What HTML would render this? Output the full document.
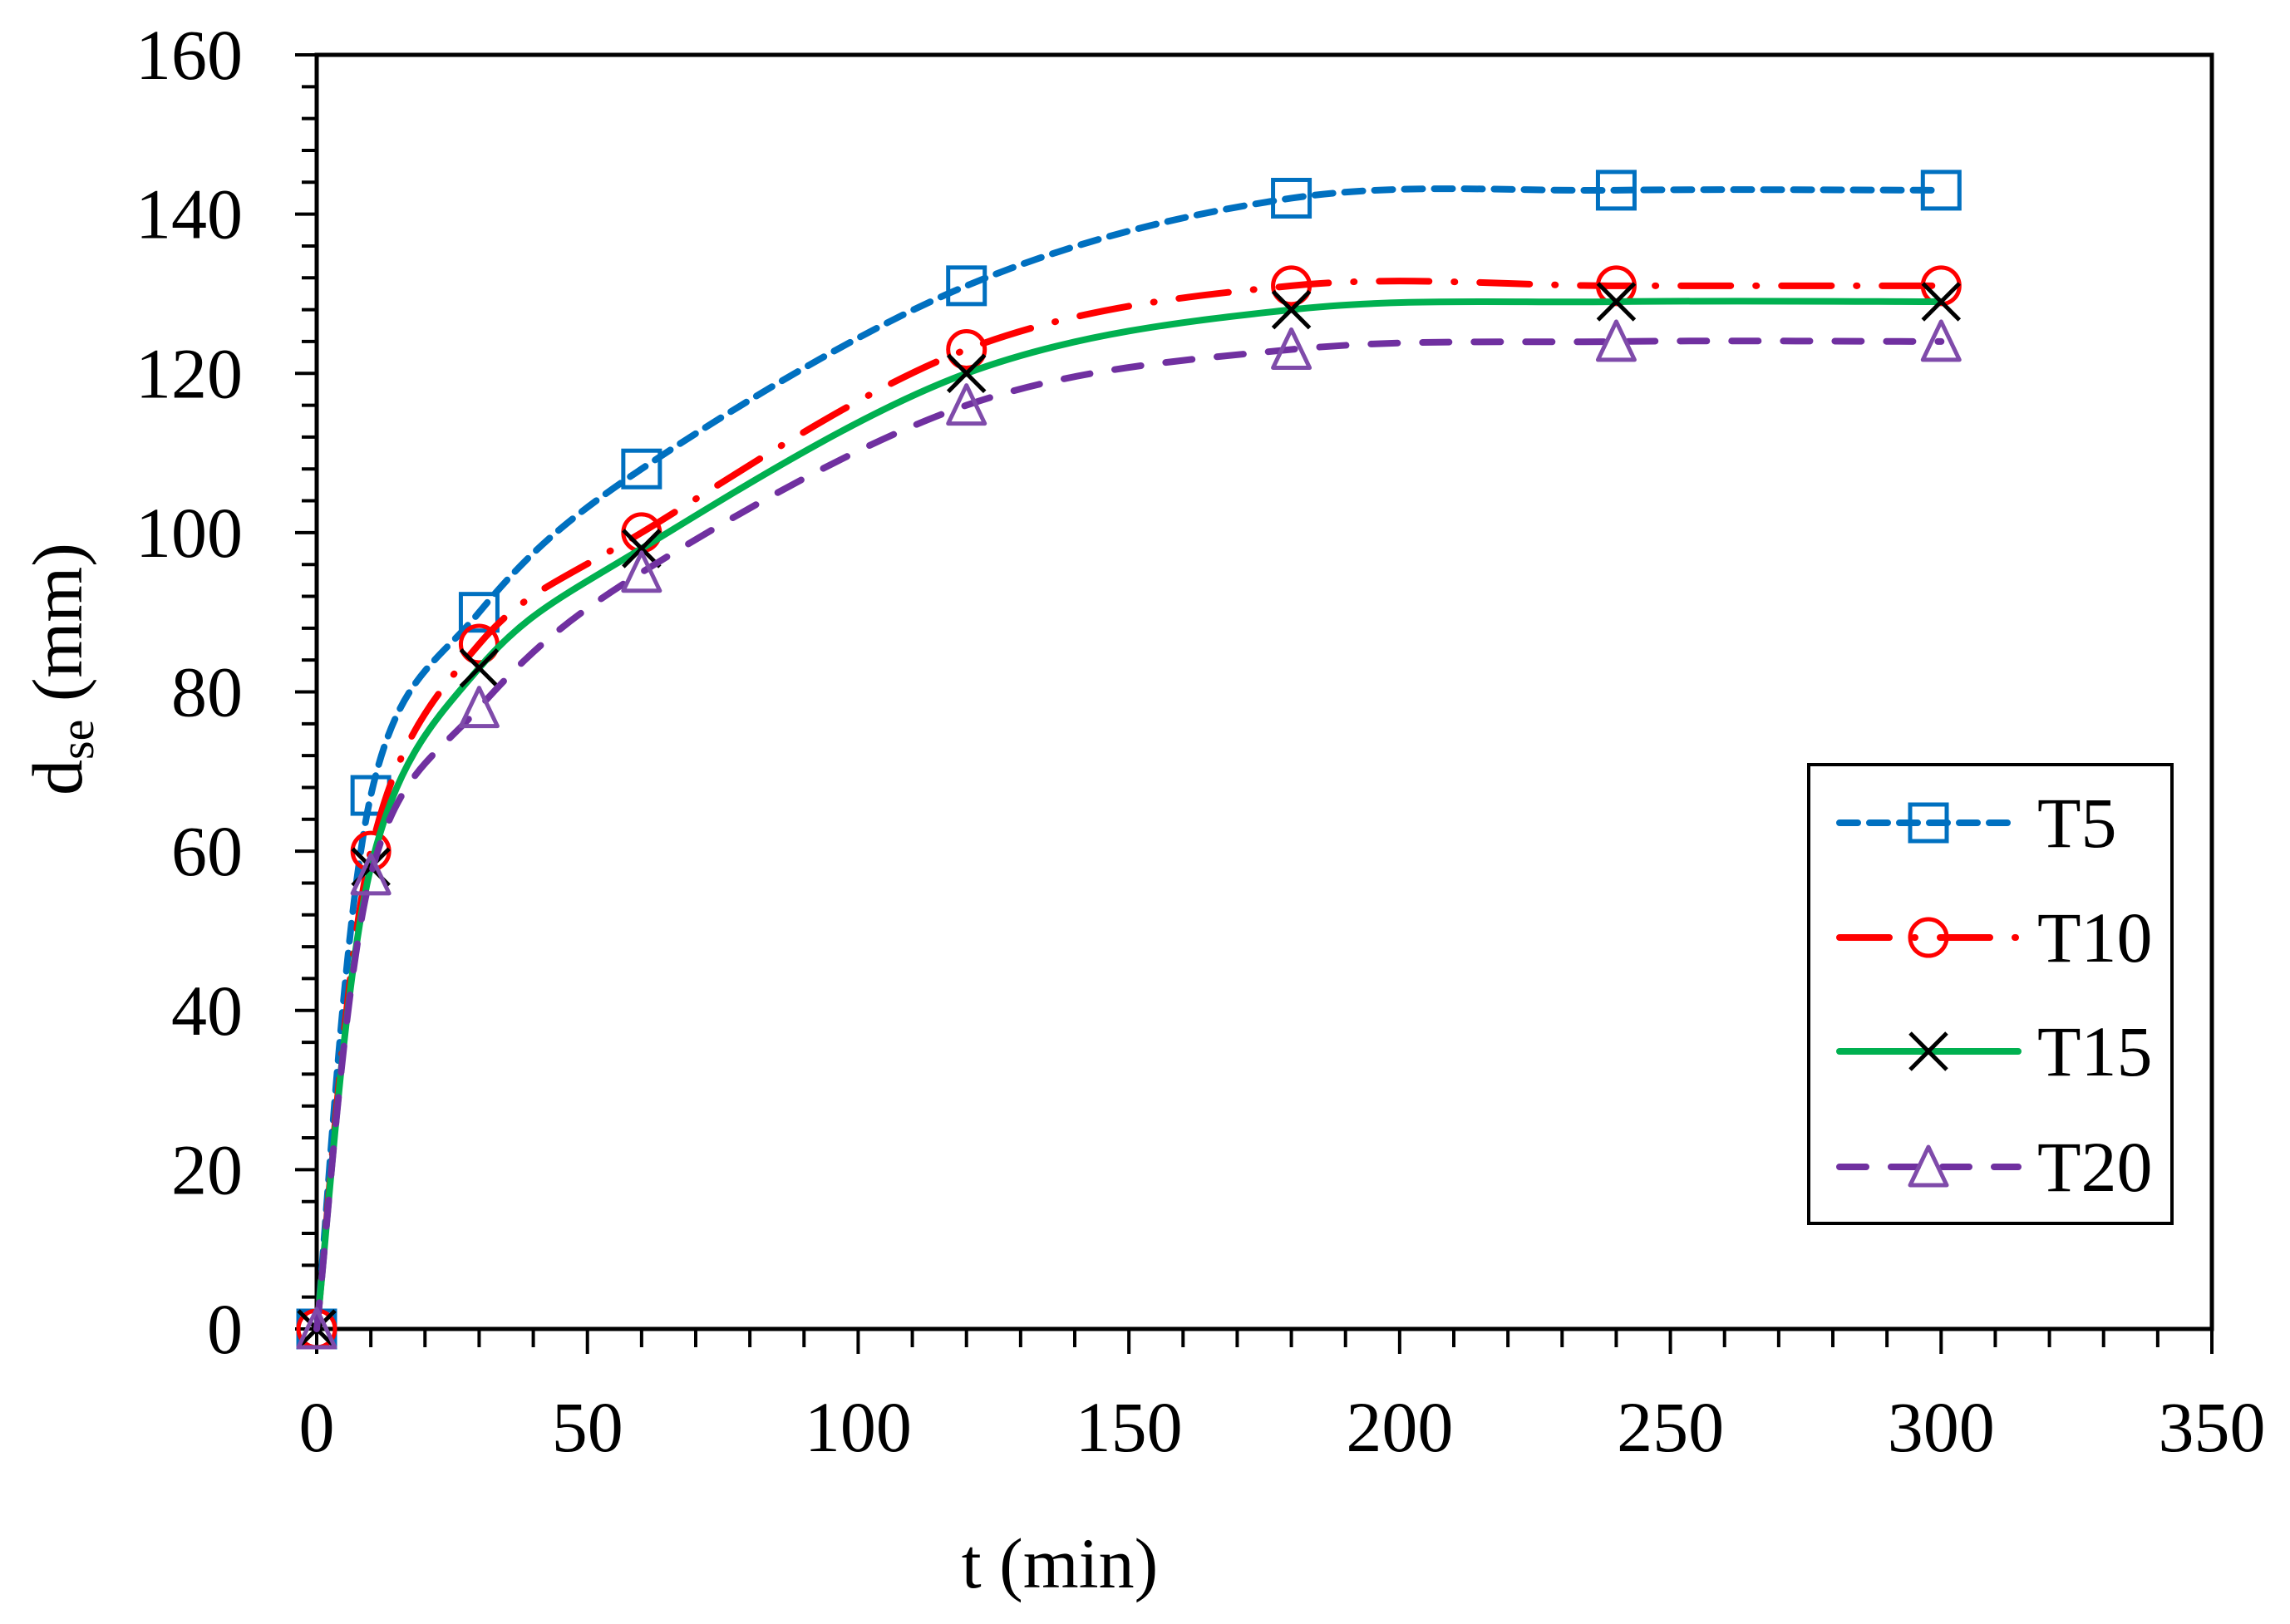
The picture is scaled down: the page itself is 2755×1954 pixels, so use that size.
<!DOCTYPE html>
<html><head><meta charset="utf-8"><style>
html,body{margin:0;padding:0;background:#fff;}
svg{display:block;}
text{font-family:"Liberation Serif",serif;fill:#000;}
</style></head><body>
<svg id="chart" width="2755" height="1954" viewBox="0 0 2755 1954" xmlns="http://www.w3.org/2000/svg"></svg>
<script>
const times = [0,10,30,60,120,180,240,300];
const seriesNames = ["T5","T10","T15","T20"];
const t5 = [0,67,90,108,131,142,143,143];
const t10 = [0,60,86,100,123,131,131,131];
const t15 = [0,58,83,98,120,128,129,129];
const t20 = [0,57,78,95,116,123,124,124];
const xTicks = [0,50,100,150,200,250,300,350];
const yTicks = [0,20,40,60,80,100,120,140,160];

const L=381,R=2661,T=66,B=1599;
const X=v=>L+(v-0)/350*(R-L);
const Y=v=>B-(v/160)*(B-T);
const NS="http://www.w3.org/2000/svg";
const svg=document.getElementById('chart');
function mk(tag,attrs,parent){const e=document.createElementNS(NS,tag);for(const k in attrs)e.setAttribute(k,attrs[k]);(parent||svg).appendChild(e);return e;}

const ticksG=mk('g',{});


for(let v=0;v<=160;v+=4){const maj=v%20===0;mk('line',{x1:L-(maj?26:18),x2:L,y1:Y(v),y2:Y(v),stroke:'#000','stroke-width':4},ticksG);}
for(let v=0;v<=350;v+=10){const maj=v%50===0;mk('line',{x1:X(v),x2:X(v),y1:B,y2:B+(maj?30:22),stroke:'#000','stroke-width':4},ticksG);}
const frame=mk('rect',{x:L,y:T,width:R-L,height:B-T,fill:'none',stroke:'#000','stroke-width':5});



yTicks.forEach(v=>{const t=mk('text',{x:292,y:Y(v)+29,'text-anchor':'end','font-size':86});t.textContent=v;

});
xTicks.forEach(v=>{const t=mk('text',{x:X(v),y:1746,'text-anchor':'middle','font-size':86});t.textContent=v;

});

const xt=mk('text',{x:1275,y:1910,'text-anchor':'middle','font-size':86});xt.textContent='t (min)';


const yt=mk('text',{x:0,y:0,'text-anchor':'middle','font-size':86,transform:'translate(98,805) rotate(-90)'});
yt.innerHTML='d<tspan font-size="58" dy="14">se</tspan><tspan dy="-14"> (mm)</tspan>';



const styles=[
 {c:'#0070C0',dash:'22 14',cap:'round',m:'square'},
 {c:'#FF0000',dash:'60 30 1 30',cap:'round',m:'circle'},
 {c:'#00B050',dash:'',cap:'round',m:'x'},
 {c:'#7030A0',dash:'32 30',cap:'round',m:'tri',mc:'#7F4BAA'}
];
const data=[t5,t10,t15,t20];

function smoothPath(pts){
 let d=`M${pts[0][0]},${pts[0][1]}`;
 for(let i=0;i<pts.length-1;i++){
  const p0=pts[Math.max(0,i-1)],p1=pts[i],p2=pts[i+1],p3=pts[Math.min(pts.length-1,i+2)];
  const k=1/6;
  const c1=[p1[0]+(p2[0]-p0[0])*k,p1[1]+(p2[1]-p0[1])*k];
  const c2=[p2[0]-(p3[0]-p1[0])*k,p2[1]-(p3[1]-p1[1])*k];
  d+=` C${c1[0]},${c1[1]} ${c2[0]},${c2[1]} ${p2[0]},${p2[1]}`;
 }
 return d;
}
function marker(type,x,y,color,g){
 const s=22,w=5;
 if(type==='square')return mk('rect',{x:x-s,y:y-s,width:2*s,height:2*s,fill:'none',stroke:color,'stroke-width':w},g);
 if(type==='circle')return mk('circle',{cx:x,cy:y,r:s,fill:'none',stroke:color,'stroke-width':w},g);
 if(type==='x')return mk('path',{d:`M${x-s},${y-s}L${x+s},${y+s}M${x+s},${y-s}L${x-s},${y+s}`,stroke:'#000','stroke-width':w},g);
 return mk('path',{d:`M${x},${y-24}L${x+22},${y+22}L${x-22},${y+22}Z`,fill:'none',stroke:color,'stroke-width':w,'stroke-linejoin':'round'},g);
}
data.forEach((vals,si)=>{
 const st=styles[si];
 const g=mk('g',{});
 
 
 const pts=times.map((t,i)=>[X(t),Y(vals[i])]);
 const p=mk('path',{d:smoothPath(pts),fill:'none',stroke:st.c,'stroke-width':8,'stroke-dasharray':st.dash,'stroke-linecap':st.cap},g);
 
 
 pts.forEach(q=>{const m=marker(st.m,q[0],q[1],st.mc||st.c,g);
  
  });
});

const lg=mk('g',{});


mk('rect',{x:2176,y:920,width:437,height:552,fill:'#fff',stroke:'#000','stroke-width':4},lg);
const rowsY=[990,1128,1265,1404];
seriesNames.forEach((n,i)=>{
 const st=styles[i];
 const e=mk('g',{},lg);
 
 
 mk('line',{x1:2213,x2:2428,y1:rowsY[i],y2:rowsY[i],stroke:st.c,'stroke-width':8,'stroke-dasharray':st.dash,'stroke-linecap':st.cap},e);
 marker(st.m,2320,rowsY[i],st.mc||st.c,e);
 const t=mk('text',{x:2451,y:rowsY[i]+29,'font-size':86},e);t.textContent=n;
});
</script>
</body></html>
